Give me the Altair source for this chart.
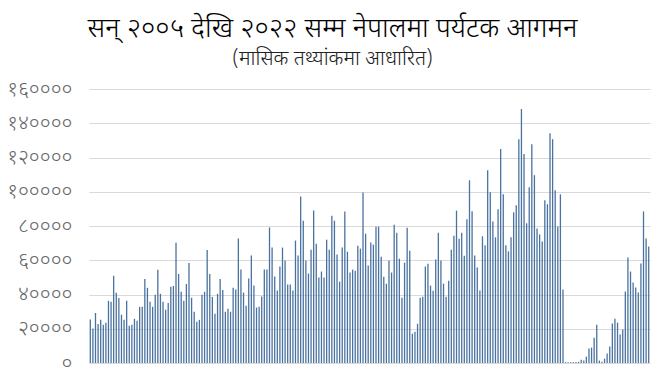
import altair as alt
import pandas as pd

# Monthly tourist arrivals, Jan..Dec for each year
y2005 = [25400, 20100, 29200, 22800, 25200, 22300, 23500, 36300, 35700, 50900, 41000, 38000]
y2006 = [28200, 25200, 36300, 21700, 22300, 25800, 24700, 32800, 32800, 49100, 43900, 35700]
y2007 = [32800, 39800, 54400, 40400, 35700, 31100, 35100, 44500, 45000, 70200, 52000, 41600]
y2008 = [36300, 46200, 58400, 38100, 29900, 24100, 25200, 39800, 41600, 66000, 52000, 38600]
y2009 = [28700, 40400, 49100, 42700, 29900, 31700, 29900, 43900, 42900, 72700, 54600, 41100]
y2010 = [33500, 49300, 62800, 45200, 32400, 32900, 38800, 54600, 54600, 79100, 67400, 50500]
y2011 = [42300, 56300, 67400, 59800, 45800, 45800, 42300, 71500, 62800, 97200, 83100, 59800]
y2012 = [52200, 66200, 89000, 69700, 49900, 53400, 49900, 72000, 66200, 86000, 83100, 63300]
y2013 = [47500, 67400, 88400, 65000, 52800, 54500, 53900, 68500, 66800, 99500, 75500, 56900]
y2014 = [70300, 69100, 79600, 79600, 62100, 50400, 46300, 59800, 52800, 80800, 76100, 60900]
y2015 = [38100, 58600, 79000, 65600, 17100, 18300, 22900, 38100, 38700, 56300, 58000, 45200]
y2016 = [42200, 60400, 76100, 59800, 46300, 38700, 48100, 66200, 74300, 89000, 72600, 76100]
y2017 = [62700, 83900, 106700, 88600, 62800, 55800, 42300, 74000, 68700, 112600, 99700, 82700]
y2018 = [73400, 89800, 124900, 98500, 68700, 65200, 73400, 88000, 92100, 130700, 148300, 122000]
y2019 = [81600, 102600, 127800, 109700, 78600, 75100, 71000, 95000, 92700, 134200, 130700, 100900]
y2020 = [79700, 98500, 42900, 500, 400, 500, 500, 600, 700, 1900, 1400, 3700]
y2021 = [8400, 9000, 14800, 22400, 1400, 800, 2500, 5500, 9600, 23000, 25900, 23600]
y2022 = [16600, 19500, 41700, 61600, 53400, 47000, 44100, 41100, 58100, 88500, 72700, 68000]

years = list(range(2005, 2023))
yearly = [y2005, y2006, y2007, y2008, y2009, y2010, y2011, y2012, y2013,
          y2014, y2015, y2016, y2017, y2018, y2019, y2020, y2021, y2022]

tick_values = [0, 20000, 40000, 60000, 80000, 100000, 120000, 140000, 160000]
tick_labels = ["०", "२००००", "४००००", "६००००", "८००००", "१०००००", "१२००००", "१४००००", "१६००००"]

title_text = "सन् २००५ देखि २०२२ सम्म नेपालमा पर्यटक आगमन"
subtitle_text = "(मासिक तथ्यांकमा आधारित)"

rows = []
for yr, vals in zip(years, yearly):
    for m, v in enumerate(vals, start=1):
        rows.append({"month": f"{yr}-{m:02d}", "arrivals": v})
df = pd.DataFrame(rows)
month_order = list(df["month"])

label_expr = "[" + ",".join(f"'{t}'" for t in tick_labels) + "][round(datum.value/20000)]"

FONT = "Noto Sans Devanagari, Mangal, Lohit Devanagari, Noto Sans, sans-serif"

chart = alt.Chart(df).mark_bar(color="#4a72a0").encode(
    x=alt.X("month:N", sort=month_order, axis=None,
            scale=alt.Scale(paddingInner=0.5, paddingOuter=0.25)),
    y=alt.Y("arrivals:Q",
            scale=alt.Scale(domain=[0, 160000], nice=False),
            axis=alt.Axis(values=tick_values, labelExpr=label_expr, title=None,
                          grid=True, gridColor="#d9d9d9", gridWidth=1,
                          domain=False, ticks=False, labelPadding=17,
                          labelFontSize=21, labelColor="#666666", labelFont=FONT,
                          labelFontWeight=300)),
).properties(
    width=561,
    height=274,
    autosize=alt.AutoSizeParams(type="none"),
    padding={"left": 81, "top": 81, "right": 9, "bottom": 15},
    title=alt.TitleParams(
        text=title_text,
        subtitle=subtitle_text,
        anchor="middle",
        frame="group",
        dx=-37,
        offset=9,
        font=FONT,
        fontSize=27.5,
        fontWeight=300,
        color="#000000",
        subtitleFont=FONT,
        subtitleFontSize=20.5,
        subtitleFontWeight=300,
        subtitleColor="#222222",
        subtitlePadding=6,
    ),
).configure_view(stroke=None)

chart.save("out.html", embed_options={"renderer": "svg", "actions": False})
